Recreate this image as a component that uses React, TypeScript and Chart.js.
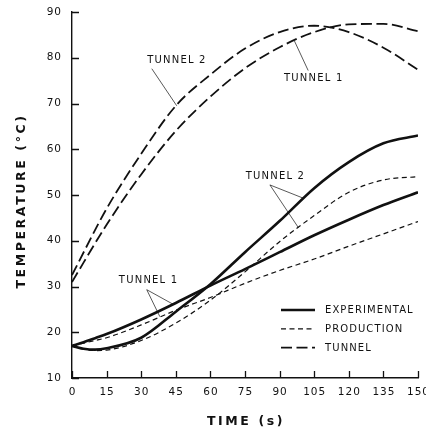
import React, { useEffect, useRef } from "react";
import { Chart, registerables } from "chart.js";

Chart.register(...registerables);

// ---- data (time in s, temperature in °C) ----
const tunnelTimes = [0, 15, 30, 45, 60, 75, 90, 105, 120, 135, 150];
const tunnel2Tunnel = [32.5, 47, 59, 69.5, 76.3, 82, 85.6, 87, 85.6, 82.2, 77.4];
const tunnel1Tunnel = [31, 43.5, 54.5, 64, 71.5, 77.7, 82.3, 85.6, 87.3, 87.4, 85.8];

const lowTimes = [0, 5, 10, 15, 30, 45, 60, 75, 90, 105, 120, 135, 150];
const expTunnel1 = [17, 17.8, 18.7, 19.6, 22.8, 26.4, 30.2, 33.8, 37.5, 41.2, 44.6, 47.8, 50.6];
const expTunnel2 = [17, 16.4, 16.2, 16.5, 18.8, 24.5, 30.5, 37.5, 44.3, 51.5, 57.2, 61.3, 63];
const prodTunnel1 = [17, 17.6, 18.2, 18.8, 21.6, 24.8, 27.6, 30.7, 33.5, 36, 38.8, 41.5, 44.2];
const prodTunnel2 = [17, 16.3, 16, 16.1, 18.2, 22, 27, 33.2, 39.8, 45.5, 50.6, 53.3, 54];

const xTitle = "TIME (s)";
const yTitle = "TEMPERATURE (°C)";
const legendLabels = ["EXPERIMENTAL", "PRODUCTION", "TUNNEL"];

// annotations: label position and leader targets, in data units [t, T]
const annotations = [
  { text: "TUNNEL 2", at: [45.5, 79.4], from: [34.6, 77.6], to: [[45.4, 69.5]] },
  { text: "TUNNEL 1", at: [104.8, 75.4], from: [102.4, 77.2], to: [[96.4, 83.7]] },
  { text: "TUNNEL 2", at: [88.2, 54.1], from: [85.8, 52.2], to: [[100.3, 49.3], [98.1, 42.9]] },
  { text: "TUNNEL 1", at: [33.2, 31.3], from: [32.4, 29.3], to: [[43.9, 26.1], [38.1, 23.4]] },
];

const FONT = '"DejaVu Sans", sans-serif';
const INK = "#111";

const pts = (xs: number[], ys: number[]) => xs.map((x, i) => ({ x, y: ys[i] }));

const styles = {
  exp: { borderWidth: 2.6, borderDash: [] as number[] },
  prod: { borderWidth: 1.2, borderDash: [5, 3.5] },
  tun: { borderWidth: 1.8, borderDash: [11, 4.5] },
};

const overlay = {
  id: "overlay",
  afterDraw(chart: any) {
    const { ctx, chartArea, scales } = chart;
    const xs = scales.x;
    const ys = scales.y;
    ctx.save();
    ctx.strokeStyle = INK;
    ctx.fillStyle = INK;
    // inward ticks
    ctx.lineWidth = 1.3;
    ctx.beginPath();
    ys.ticks.forEach((t: any) => {
      const py = Math.round(ys.getPixelForValue(t.value)) + 0.5;
      ctx.moveTo(chartArea.left, py);
      ctx.lineTo(chartArea.left + 7, py);
    });
    xs.ticks.forEach((t: any) => {
      const px = Math.round(xs.getPixelForValue(t.value)) + 0.5;
      ctx.moveTo(px, chartArea.bottom);
      ctx.lineTo(px, chartArea.bottom - 7);
    });
    ctx.stroke();

    // tick labels
    ctx.font = `10.5px ${FONT}`;
    (ctx as any).letterSpacing = "1px";
    ctx.textBaseline = "middle";
    ctx.textAlign = "right";
    ys.ticks.forEach((t: any) => {
      ctx.fillText(String(t.value), chartArea.left - 10, ys.getPixelForValue(t.value));
    });
    ctx.textAlign = "center";
    xs.ticks.forEach((t: any) => {
      ctx.fillText(String(t.value), xs.getPixelForValue(t.value) + 0.5, chartArea.bottom + 14);
    });

    // axis titles
    ctx.font = `bold 12.5px ${FONT}`;
    (ctx as any).letterSpacing = "2.6px";
    ctx.fillText(xTitle, (chartArea.left + chartArea.right) / 2 + 1, chartArea.bottom + 44);
    ctx.save();
    ctx.translate(22, (chartArea.top + chartArea.bottom) / 2 + 6);
    ctx.rotate(-Math.PI / 2);
    ctx.fillText(yTitle, 0, 0);
    ctx.restore();

    // annotations
    ctx.font = `10px ${FONT}`;
    (ctx as any).letterSpacing = "1.2px";
    ctx.lineWidth = 0.7;
    ctx.setLineDash([]);
    annotations.forEach((a) => {
      ctx.fillText(a.text, xs.getPixelForValue(a.at[0]), ys.getPixelForValue(a.at[1]));
      ctx.beginPath();
      a.to.forEach((p) => {
        ctx.moveTo(xs.getPixelForValue(a.from[0]), ys.getPixelForValue(a.from[1]));
        ctx.lineTo(xs.getPixelForValue(p[0]), ys.getPixelForValue(p[1]));
      });
      ctx.stroke();
    });

    // legend
    const keys = [styles.exp, styles.prod, styles.tun];
    const lx0 = chartArea.left + 209;
    const lx1 = chartArea.left + 243;
    const tx = chartArea.left + 253;
    ctx.textAlign = "left";
    (ctx as any).letterSpacing = "1.1px";
    legendLabels.forEach((lab, i) => {
      const py = chartArea.top + 298 + i * 18.8;
      ctx.lineWidth = keys[i].borderWidth;
      ctx.setLineDash(keys[i].borderDash);
      ctx.beginPath();
      ctx.moveTo(lx0, py);
      ctx.lineTo(lx1, py);
      ctx.stroke();
      ctx.fillText(lab, tx, py + 0.5);
    });
    ctx.restore();
  },
};

export default function App() {
  const ref = useRef<HTMLCanvasElement | null>(null);
  useEffect(() => {
    if (!ref.current) return;
    const line = (data: any, st: any) => ({
      data,
      borderColor: INK,
      borderWidth: st.borderWidth,
      borderDash: st.borderDash,
      pointRadius: 0,
      fill: false,
      cubicInterpolationMode: "monotone" as const,
    });
    const chart = new Chart(ref.current, {
      type: "line",
      data: {
        datasets: [
          line(pts(tunnelTimes, tunnel2Tunnel), styles.tun),
          line(pts(tunnelTimes, tunnel1Tunnel), styles.tun),
          line(pts(lowTimes, expTunnel1), styles.exp),
          line(pts(lowTimes, expTunnel2), styles.exp),
          line(pts(lowTimes, prodTunnel1), styles.prod),
          line(pts(lowTimes, prodTunnel2), styles.prod),
        ],
      },
      options: {
        animation: false,
        responsive: false,
        devicePixelRatio: 1,
        layout: { padding: { top: 12, right: 8, left: 0, bottom: 0 } },
        plugins: { legend: { display: false }, tooltip: { enabled: false } },
        scales: {
          x: {
            type: "linear",
            min: 0,
            max: 150,
            ticks: { stepSize: 15, display: false },
            grid: { display: false, drawTicks: false },
            border: { display: true, color: INK, width: 1.4 },
            afterFit: (s: any) => { s.height = 55; },
          },
          y: {
            type: "linear",
            min: 10,
            max: 90,
            ticks: { stepSize: 10, display: false },
            grid: { display: false, drawTicks: false },
            border: { display: true, color: INK, width: 1.4 },
            afterFit: (s: any) => { s.width = 72; },
          },
        },
      },
      plugins: [overlay],
    });
    return () => chart.destroy();
  }, []);
  return (
    <div style={{ position: "fixed", left: 0, top: 0, width: 426, height: 433, background: "#fff" }}>
      <canvas ref={ref} width={426} height={433} />
    </div>
  );
}
